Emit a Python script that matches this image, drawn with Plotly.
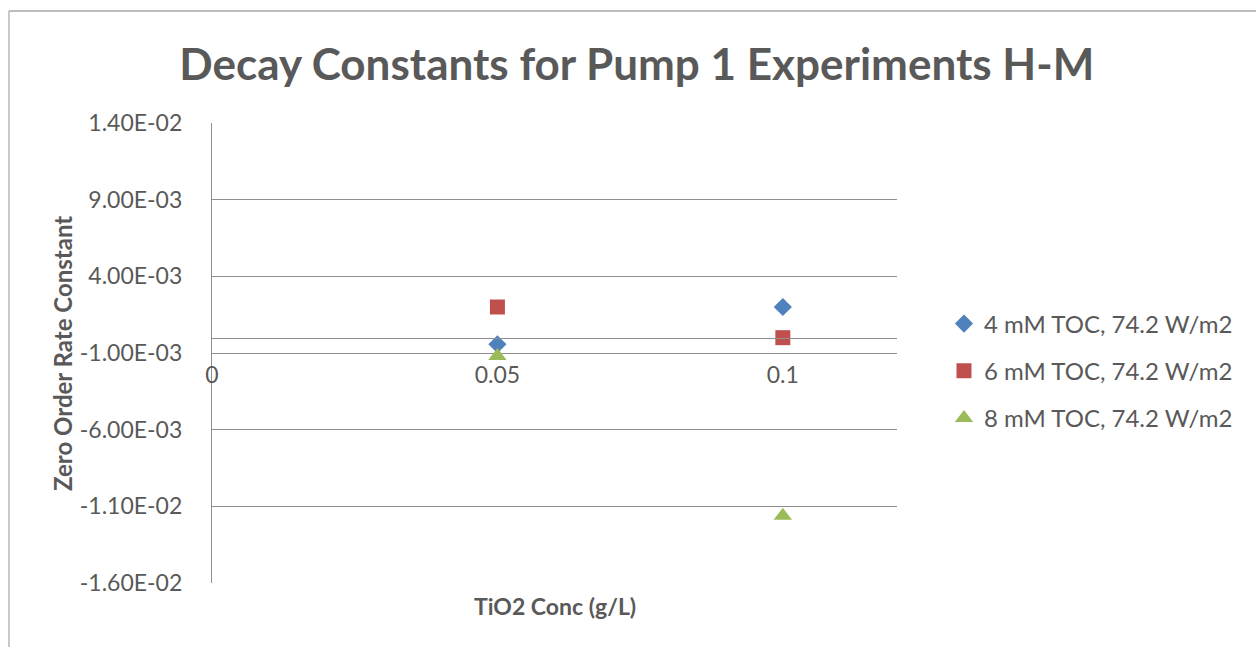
import plotly.graph_objects as go

# TiO2 concentrations (g/L)
tio2_conc = [0.05, 0.1]

# Zero order rate constants per TOC level
series_names = ["4 mM TOC, 74.2 W/m2", "6 mM TOC, 74.2 W/m2", "8 mM TOC, 74.2 W/m2"]
rate_4mM = [-4.3e-4, 2.0e-3]
rate_6mM = [2.0e-3, 0.0]
rate_8mM = [-1.2e-3, -1.162e-2]

# Axis ticks
y_tickvals = [-0.016, -0.011, -0.006, -0.001, 0.004, 0.009, 0.014]
y_ticktext = ["-1.60E-02", "-1.10E-02", "-6.00E-03", "-1.00E-03", "4.00E-03", "9.00E-03", "1.40E-02"]
x_tickvals = [0, 0.05, 0.1]
x_ticktext = ["0", "0.05", "0.1"]

FONT = "Lato"
TEXT = "#595959"
GRID = "#8f8f8f"
TICK_SIZE = 23

Y_MIN, Y_MAX = -0.016, 0.014

fig = go.Figure()
styles = [
    dict(symbol="diamond", color="#4F81BD", size=14),
    dict(symbol="square", color="#C0504D", size=15),
    dict(symbol="triangle-up", color="#9BBB59", size=16),
]
for i, (name, vals, st) in enumerate(zip(series_names, [rate_4mM, rate_6mM, rate_8mM], styles)):
    fig.add_trace(go.Scatter(
        x=tio2_conc, y=vals, mode="markers", name=name,
        legendgroup=f"g{i}",
        marker=dict(symbol=st["symbol"], color=st["color"], size=st["size"], line=dict(width=0)),
    ))

# fraction of the plot height where y = 0 sits (x axis crosses there)
zero_pos = (0 - Y_MIN) / (Y_MAX - Y_MIN)

fig.update_layout(
    width=1256, height=647,
    margin=dict(l=212, r=359, t=123, b=64),
    paper_bgcolor="white", plot_bgcolor="white",
    font=dict(family=FONT, color=TEXT, size=TICK_SIZE),
    title=dict(text="<b>Decay Constants for Pump 1 Experiments H-M</b>",
               x=0.507, xanchor="center", y=0.9, yanchor="middle",
               font=dict(family=FONT, size=44, color=TEXT)),
    xaxis=dict(range=[0, 0.12], tickvals=x_tickvals, ticktext=x_ticktext,
               showgrid=False, zeroline=False, showline=True, linecolor=GRID, linewidth=1.2,
               anchor="free", position=zero_pos, ticks="", ticklabelstandoff=17,
               tickfont=dict(size=TICK_SIZE, color=TEXT)),
    yaxis=dict(range=[Y_MIN, Y_MAX], tickvals=y_tickvals, ticktext=y_ticktext,
               showgrid=True, gridcolor=GRID, gridwidth=1.2, zeroline=False,
               showline=True, linecolor=GRID, linewidth=1.2, ticks="",
               ticklabelstandoff=24, tickfont=dict(size=TICK_SIZE, color=TEXT)),
    legend=dict(x=1.0686, y=0.612, xanchor="left", yanchor="top",
                font=dict(size=24, color=TEXT), tracegroupgap=13,
                bgcolor="rgba(0,0,0,0)", itemwidth=30),
    showlegend=True,
)

# axis titles
fig.add_annotation(text="<b>TiO2 Conc (g/L)</b>", xref="paper", yref="paper",
                   x=0.5, y=-0.05, xanchor="center", yanchor="middle", showarrow=False,
                   font=dict(size=23, color=TEXT, family=FONT))
fig.add_annotation(text="<b>Zero Order Rate Constant</b>", xref="paper", yref="paper",
                   x=-0.219, y=0.5, xanchor="center", yanchor="middle", showarrow=False,
                   textangle=-90, font=dict(size=24, color=TEXT, family=FONT))

# chart frame
fig.add_shape(type="line", xref="paper", yref="paper", x0=-0.2964, x1=1.53, y0=1.2435, y1=1.2435,
              line=dict(color="#a8a8a8", width=1.5))
fig.add_shape(type="line", xref="paper", yref="paper", x0=-0.2964, x1=-0.2964, y0=1.2435, y1=-0.15,
              line=dict(color="#b8b8b8", width=1.5))

fig.write_html("out.html")
